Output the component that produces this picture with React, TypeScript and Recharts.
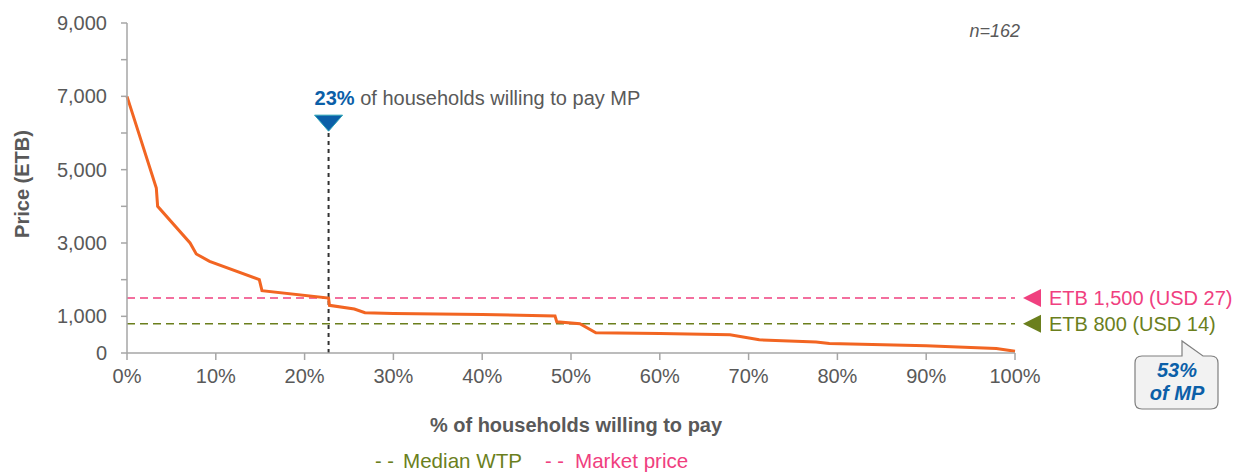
import { LineChart, Line, XAxis, YAxis, ReferenceLine, ReferenceDot } from "recharts";

// demand curve: share of households (%) vs price (ETB)
const pctWilling = [0, 3.3, 3.45, 7.1, 7.8, 9.3, 14.9, 15.2, 22.7, 22.8, 25.6, 26.8, 30, 40, 48.2, 48.4, 51, 52.8, 60, 67.9, 71.2, 77.6, 79.1, 90, 97.9, 100];
const priceEtb = [7000, 4500, 4000, 3000, 2700, 2500, 2000, 1700, 1500, 1300, 1200, 1100, 1080, 1050, 1010, 850, 800, 550, 530, 500, 360, 300, 260, 200, 120, 50];

const xTicks = [0, 10, 20, 30, 40, 50, 60, 70, 80, 90, 100];
const yTicks = [0, 1000, 2000, 3000, 4000, 5000, 6000, 7000, 8000, 9000];
const yLabelled = [0, 1000, 3000, 5000, 7000, 9000];

const marketPrice = 1500;
const medianWtp = 800;
const shareAtMarket = 22.7;
const markerTop = 6050;

const FONT = "'Liberation Sans', Arial, sans-serif";
const GRAY = "#595959";
const AXIS = "#a6a6a6";
const ORANGE = "#f26522";
const PINK = "#f0407f";
const OLIVE = "#6b7f1d";
const BLUE = "#0b5fa8";

const data = pctWilling.map((p, i) => ({ pct: p, price: priceEtb[i] }));

const fmt = (v: number) => (yLabelled.includes(v) ? v.toLocaleString("en-US") : "");

function sideLabel(color: string, text: string) {
  return (p: any) => {
    const { cx, cy } = p;
    return (
      <g>
        <polygon points={`${cx + 8},${cy} ${cx + 26},${cy - 9} ${cx + 26},${cy + 9}`} fill={color} />
        <text x={cx + 34} y={cy + 7} fill={color} fontSize={20} fontFamily={FONT}>
          {text}
        </text>
      </g>
    );
  };
}

function marketMarker(p: any) {
  const { cx, cy } = p;
  return (
    <g>
      <polygon
        points={`${cx - 14},${cy - 16} ${cx + 14},${cy - 16} ${cx},${cy}`}
        fill={BLUE}
        stroke="#2aa3b7"
        strokeWidth={1}
      />
      <text x={cx - 14} y={cy - 26} fontSize={20} fontFamily={FONT} fill={GRAY}>
        <tspan fontWeight="bold" fill={BLUE}>23%</tspan>
        <tspan> of households willing to pay MP</tspan>
      </text>
    </g>
  );
}

function callout(p: any) {
  const { cx, cy } = p;
  const x0 = cx + 120, y0 = cy + 3, x1 = cx + 203, y1 = cy + 56, r = 7;
  const nx0 = cx + 167, nx1 = cx + 188, ax = cx + 167, ay = cy - 12;
  const d = `M ${x0 + r} ${y0} L ${nx0} ${y0} L ${ax} ${ay} L ${nx1} ${y0} L ${x1 - r} ${y0} Q ${x1} ${y0} ${x1} ${y0 + r} L ${x1} ${y1 - r} Q ${x1} ${y1} ${x1 - r} ${y1} L ${x0 + r} ${y1} Q ${x0} ${y1} ${x0} ${y1 - r} L ${x0} ${y0 + r} Q ${x0} ${y0} ${x0 + r} ${y0} Z`;
  return (
    <g>
      <path d={d} fill="#f2f2f2" stroke="#7f7f7f" strokeWidth={1.2} />
      <text x={cx + 162} y={cy + 24} textAnchor="middle" fontSize={20} fontWeight="bold" fontStyle="italic" fontFamily={FONT} fill={BLUE}>
        53%
      </text>
      <text x={cx + 162} y={cy + 47} textAnchor="middle" fontSize={20} fontWeight="bold" fontStyle="italic" fontFamily={FONT} fill={BLUE}>
        of MP
      </text>
    </g>
  );
}

function sampleNote(p: any) {
  const { cx, cy } = p;
  return (
    <text x={cx + 5} y={cy + 14} textAnchor="end" fontSize={18} fontStyle="italic" fontFamily={FONT} fill={GRAY}>
      n=162
    </text>
  );
}

const legendText = { position: "absolute" as const, top: 450, whiteSpace: "nowrap" as const, fontSize: 20, lineHeight: "22px" };

export default function App() {
  return (
    <div style={{ position: "absolute", left: 0, top: 0, width: 1239, height: 473, fontFamily: FONT, overflow: "hidden" }}>
      <LineChart width={1239} height={473} data={data} margin={{ top: 23, right: 224, bottom: 80, left: 0 }}>
        <XAxis
          dataKey="pct"
          type="number"
          domain={[0, 100]}
          ticks={xTicks}
          tickFormatter={(v) => `${v}%`}
          height={40}
          tickSize={7}
          tickMargin={9}
          tick={{ fontSize: 20, fill: GRAY, fontFamily: FONT }}
          axisLine={{ stroke: AXIS, strokeWidth: 1.5 }}
          tickLine={{ stroke: AXIS, strokeWidth: 1.5 }}
        />
        <YAxis
          type="number"
          domain={[0, 9000]}
          ticks={yTicks}
          interval={0}
          tickFormatter={fmt}
          width={127}
          tickSize={6}
          tickMargin={14}
          tick={{ fontSize: 20, fill: GRAY, fontFamily: FONT }}
          axisLine={{ stroke: AXIS, strokeWidth: 1.5 }}
          tickLine={{ stroke: AXIS, strokeWidth: 1.5 }}
        />
        <ReferenceLine y={marketPrice} stroke={PINK} strokeWidth={1.5} strokeDasharray="8 5" />
        <ReferenceLine y={medianWtp} stroke={OLIVE} strokeWidth={1.5} strokeDasharray="8 5" />
        <ReferenceLine
          segment={[{ x: shareAtMarket, y: 0 }, { x: shareAtMarket, y: markerTop }]}
          stroke="#333333"
          strokeWidth={2}
          strokeDasharray="4 4"
        />
        <Line
          type="linear"
          dataKey="price"
          stroke={ORANGE}
          strokeWidth={3}
          dot={false}
          activeDot={false}
          isAnimationActive={false}
        />
        <ReferenceDot x={shareAtMarket} y={markerTop} ifOverflow="visible" shape={marketMarker} />
        <ReferenceDot x={100} y={marketPrice} ifOverflow="visible" shape={sideLabel(PINK, "ETB 1,500 (USD 27)")} />
        <ReferenceDot x={100} y={medianWtp} ifOverflow="visible" shape={sideLabel(OLIVE, "ETB 800 (USD 14)")} />
        <ReferenceDot x={100} y={0} ifOverflow="visible" shape={callout} />
        <ReferenceDot x={100} y={9000} ifOverflow="visible" shape={sampleNote} />
      </LineChart>

      <div
        style={{
          position: "absolute",
          left: 22,
          top: 184,
          transform: "translate(-50%, -50%) rotate(-90deg)",
          whiteSpace: "nowrap",
          fontSize: 20,
          fontWeight: "bold",
          color: GRAY,
        }}
      >
        Price (ETB)
      </div>
      <div
        style={{
          position: "absolute",
          left: 576,
          top: 425,
          transform: "translate(-50%, -50%)",
          whiteSpace: "nowrap",
          fontSize: 20,
          fontWeight: "bold",
          color: GRAY,
        }}
      >
        % of households willing to pay
      </div>
      <div style={{ ...legendText, left: 375, color: OLIVE }}>- -</div>
      <div style={{ ...legendText, left: 403, color: OLIVE, fontSize: 20.6 }}>Median WTP</div>
      <div style={{ ...legendText, left: 545, color: PINK }}>- -</div>
      <div style={{ ...legendText, left: 575, color: PINK, fontSize: 20.6 }}>Market price</div>
    </div>
  );
}
